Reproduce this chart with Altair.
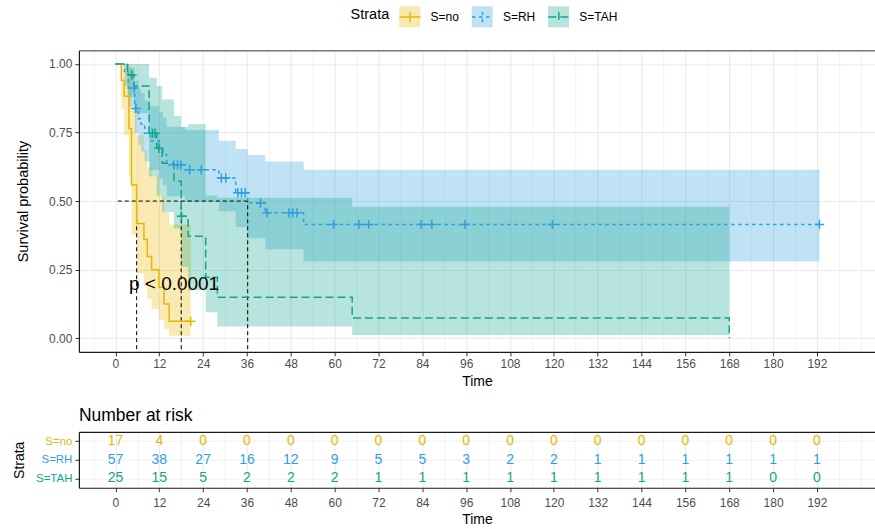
import altair as alt
import pandas as pd

FONT = "Liberation Sans"

strata = ["S=no", "S=RH", "S=TAH"]
series_colors = ["#E7B800", "#2E9FDF", "#12A58A"]
series_dashes = [[1, 0], [3.5, 3.5], [8, 4]]

# Kaplan-Meier step curves: time (months), survival, 95% CI upper / lower
no_time = [0, 1.6, 2.4, 3.7, 4.4, 5.8, 7.8, 8.7, 9.9, 11.9, 13.3, 14.7, 20.6]
no_surv = [1.0, 0.941, 0.882, 0.765, 0.559, 0.418, 0.36, 0.298, 0.25, 0.186, 0.125, 0.062, 0.062]
no_upper = [1.0, 1.0, 1.0, 0.99, 0.834, 0.74, 0.685, 0.623, 0.59, 0.52, 0.46, 0.415, 0.415]
no_lower = [1.0, 0.836, 0.741, 0.588, 0.376, 0.236, 0.19, 0.143, 0.106, 0.066, 0.034, 0.009, 0.009]

rh_time = [0, 2.5, 3.5, 5.3, 6.3, 7.0, 8.0, 9.5, 12.0, 13.0, 14.0, 19.0, 28.3, 32.9, 36.2, 41.0, 51.5, 192.7]
rh_surv = [1.0, 0.965, 0.912, 0.838, 0.80, 0.78, 0.747, 0.72, 0.693, 0.67, 0.632, 0.614, 0.584, 0.53, 0.493, 0.457, 0.415, 0.415]
rh_upper = [1.0, 1.0, 0.985, 0.939, 0.908, 0.893, 0.867, 0.846, 0.825, 0.804, 0.771, 0.759, 0.72, 0.69, 0.668, 0.644, 0.614, 0.614]
rh_lower = [1.0, 0.919, 0.844, 0.748, 0.705, 0.681, 0.644, 0.613, 0.582, 0.558, 0.518, 0.497, 0.463, 0.405, 0.364, 0.324, 0.28, 0.28]

tah_time = [0, 3.3, 5.0, 9.2, 11.3, 12.8, 16.0, 18.0, 19.9, 24.7, 27.9, 64.8, 168.0]
tah_surv = [1.0, 0.96, 0.92, 0.747, 0.693, 0.638, 0.572, 0.445, 0.372, 0.222, 0.149, 0.074, 0.0]
tah_upper = [1.0, 1.0, 1.0, 0.95, 0.92, 0.87, 0.81, 0.77, 0.78, 0.52, 0.512, 0.479, 0.0]
tah_lower = [1.0, 0.88, 0.82, 0.59, 0.52, 0.46, 0.40, 0.26, 0.175, 0.095, 0.043, 0.012, 0.0]

# censoring marks
no_cens_time = [20.6]
no_cens_surv = [0.062]
rh_cens_time = [5.1, 5.6, 16.0, 17.0, 17.9, 20.3, 23.5, 29.0, 30.2, 33.5, 34.5, 35.5, 39.7,
                41.5, 47.5, 48.5, 49.7, 59.7, 66.6, 69.3, 83.7, 86.6, 95.7, 119.6, 192.7]
rh_cens_surv = [0.912, 0.838, 0.632, 0.632, 0.632, 0.614, 0.614, 0.584, 0.584, 0.53, 0.53, 0.53, 0.493,
                0.457, 0.457, 0.457, 0.457, 0.415, 0.415, 0.415, 0.415, 0.415, 0.415, 0.415, 0.415]
tah_cens_time = [4.5, 10.1, 10.8, 11.9, 18.1]
tah_cens_surv = [0.96, 0.747, 0.747, 0.693, 0.445]

# median survival times
median_time = [5.8, 18.0, 36.2]

# p-value annotation
pval_label = ["p < 0.0001"]
pval_time = [3.7]
pval_surv = [0.175]

# number at risk table
risk_time = [0, 12, 24, 36, 48, 60, 72, 84, 96, 108, 120, 132, 144, 156, 168, 180, 192]
risk_no = [17, 4, 0, 0, 0, 0, 0, 0, 0, 0, 0, 0, 0, 0, 0, 0, 0]
risk_rh = [57, 38, 27, 16, 12, 9, 5, 5, 3, 2, 2, 1, 1, 1, 1, 1, 1]
risk_tah = [25, 15, 5, 2, 2, 2, 1, 1, 1, 1, 1, 1, 1, 1, 1, 0, 0]

x_grid = [-6] + [v for t in risk_time for v in (t, t + 6)] + [204]
y_grid = [0, 0.125, 0.25, 0.375, 0.5, 0.625, 0.75, 0.875, 1.0]

# band keys carry a "_" suffix so the band legend stays separate from the line legend
band_keys = [s + "_" for s in strata]

# ---------- data frames ----------
def curve(name, t, s, u, l):
    return pd.DataFrame({"S": name, "Sf": name + "_", "t": t, "s": s, "up": u, "lo": l})

km = pd.concat([
    curve("S=no", no_time, no_surv, no_upper, no_lower),
    curve("S=RH", rh_time, rh_surv, rh_upper, rh_lower),
    curve("S=TAH", tah_time, tah_surv, tah_upper, tah_lower),
], ignore_index=True)

cens = pd.concat([
    pd.DataFrame({"S": "S=no", "t": no_cens_time, "s": no_cens_surv}),
    pd.DataFrame({"S": "S=RH", "t": rh_cens_time, "s": rh_cens_surv}),
    pd.DataFrame({"S": "S=TAH", "t": tah_cens_time, "s": tah_cens_surv}),
], ignore_index=True)

med = pd.DataFrame({"m": median_time})
med_h = pd.DataFrame({"m": [max(median_time)]})
pval = pd.DataFrame({"label": pval_label, "t": pval_time, "s": pval_surv})

risk = pd.concat([
    pd.DataFrame({"S": "S=no", "t": risk_time, "n": risk_no}),
    pd.DataFrame({"S": "S=RH", "t": risk_time, "n": risk_rh}),
    pd.DataFrame({"S": "S=TAH", "t": risk_time, "n": risk_tah}),
], ignore_index=True)

# ---------- scales ----------
X_DOMAIN = [-10, 207.9]
xs = alt.Scale(domain=X_DOMAIN, nice=False, zero=False)
ys = alt.Scale(domain=[-0.05, 1.05], nice=False, zero=False)
color_scale = alt.Scale(domain=strata, range=series_colors)
band_scale = alt.Scale(domain=band_keys, range=series_colors)
dash_scale = alt.Scale(domain=strata, range=series_dashes)

minor_test = "datum.value % 12 !== 0 || datum.value < 0 || datum.value > 192"

def x_axis(title, label_pad, title_pad):
    return alt.Axis(
        values=x_grid, format="d",
        labelExpr="(datum.value % 12 === 0 && datum.value >= 0 && datum.value <= 192) ? datum.label : ''",
        tickOpacity={"condition": {"test": minor_test, "value": 0}, "value": 1},
        gridWidth={"condition": {"test": minor_test, "value": 0.6}, "value": 1.1},
        gridColor="#EBEBEB", grid=True,
        domainColor="#1a1a1a", domainWidth=1.2,
        tickColor="#333333", tickSize=4, tickWidth=1,
        labelColor="#4D4D4D", labelFontSize=12, labelPadding=label_pad, labelFlush=False,
        title=title, titleFontSize=14, titleFontWeight="normal", titleColor="black", titlePadding=title_pad,
    )

top_axis_main = alt.Axis(orient="top", labels=False, ticks=False, grid=False, title=None,
                         domainColor="#777777", domainWidth=1.5)
top_axis_risk = alt.Axis(orient="top", labels=False, ticks=False, grid=False, title=None,
                         domainColor="#1a1a1a", domainWidth=1.2)

y_axis_main = alt.Axis(
    values=y_grid,
    labelExpr="(datum.value * 4) % 1 === 0 ? format(datum.value, '.2f') : ''",
    tickOpacity={"condition": {"test": "(datum.value * 4) % 1 !== 0", "value": 0}, "value": 1},
    gridWidth={"condition": {"test": "(datum.value * 4) % 1 !== 0", "value": 0.6}, "value": 1.1},
    gridColor="#EBEBEB", grid=True,
    domainColor="#1a1a1a", domainWidth=1.2,
    tickColor="#333333", tickSize=4, tickWidth=1,
    labelColor="#4D4D4D", labelFontSize=12, labelPadding=3,
    title="Survival probability", titleFontSize=14.5, titleFontWeight="normal", titleColor="black",
    titlePadding=18,
)

legend_common = dict(
    orient="none", legendY=-45, direction="horizontal",
    labelFontSize=12, labelColor="black", labelOffset=9, columnPadding=9.5,
    symbolSize=441, symbolStrokeWidth=1.5, padding=0,
)
# line legend carries the visible title and labels
line_legend = alt.Legend(**legend_common, legendX=272,
                         title="Strata", titleOrient="left", titleFontSize=14.5, titleFontWeight="normal",
                         titleColor="black", titlePadding=9, titleBaseline="middle",
                         symbolType="M-1,0H1M0,-0.5V0.5", symbolFillColor="transparent")
# band legend: only the pale key boxes, placed right under the line keys
fill_legend = alt.Legend(**legend_common, legendX=272 + 47.7, title=None, labelOpacity=0,
                         labelExpr="replace(datum.label, '_', '')",
                         symbolType="square", symbolOpacity=0.3, symbolStrokeColor="transparent")

# ---------- main KM plot ----------
bands = alt.Chart(km).mark_area(interpolate="step-after", opacity=0.3, strokeWidth=0).encode(
    x=alt.X("t:Q", scale=xs, axis=x_axis("Time", 3, 5)),
    y=alt.Y("lo:Q", scale=ys, axis=y_axis_main, stack=None),
    y2="up:Q",
    fill=alt.Fill("Sf:N", scale=band_scale, legend=fill_legend),
)

med_v = alt.Chart(med).mark_rule(color="black", strokeDash=[4, 3], strokeWidth=1).encode(
    x=alt.X("m:Q", scale=xs, axis=None),
    y=alt.datum(-0.04),
    y2=alt.datum(0.5),
)
med_hline = alt.Chart(med_h).mark_rule(color="black", strokeDash=[4, 3], strokeWidth=1).encode(
    x=alt.X("m:Q", scale=xs, axis=top_axis_main),
    x2=alt.datum(0),
    y=alt.datum(0.5),
)

lines = alt.Chart(km).mark_line(interpolate="step-after", strokeWidth=1.5).encode(
    x=alt.X("t:Q", scale=xs, axis=None),
    y=alt.Y("s:Q", scale=ys),
    stroke=alt.Stroke("S:N", scale=color_scale, legend=line_legend),
    strokeDash=alt.StrokeDash("S:N", scale=dash_scale, legend=line_legend),
)

marks = alt.Chart(cens).mark_point(shape="M-1,0H1M0,-1V1", filled=False, size=90, strokeWidth=1.5, opacity=1).encode(
    x=alt.X("t:Q", scale=xs, axis=None),
    y=alt.Y("s:Q", scale=ys),
    stroke=alt.Stroke("S:N", scale=color_scale, legend=line_legend),
)

ptext = alt.Chart(pval).mark_text(align="left", baseline="alphabetic", fontSize=19, color="black").encode(
    x=alt.X("t:Q", scale=xs, axis=None),
    y=alt.Y("s:Q", scale=ys),
    text="label:N",
)

main = alt.layer(bands, med_v, med_hline, lines, marks, ptext).resolve_axis(x="independent").properties(
    width=797, height=302
)

# ---------- risk table ----------
risk_y_axis = alt.Axis(
    labelColor={"condition": [
        {"test": "datum.value === 'S=no'", "value": series_colors[0]},
        {"test": "datum.value === 'S=RH'", "value": series_colors[1]},
    ], "value": series_colors[2]},
    labelFontSize=11.5, labelPadding=3, tickSize=4, tickColor="#333333",
    domainColor="#1a1a1a", domainWidth=1.2,
    grid=True, gridColor="#F0F0F0", gridWidth=1,
    title="Strata", titleFontSize=14, titleFontWeight="normal", titleColor="black", titlePadding=9,
)

risk_text = alt.Chart(risk).mark_text(fontSize=14).encode(
    x=alt.X("t:Q", scale=xs, axis=x_axis("Time", 6, 4)),
    y=alt.Y("S:N", scale=alt.Scale(domain=strata, type="point", padding=0.5), axis=risk_y_axis),
    text="n:Q",
    color=alt.Color("S:N", scale=color_scale, legend=None),
)
risk_top = alt.Chart(risk).mark_point(opacity=0).encode(
    x=alt.X("t:Q", scale=xs, axis=top_axis_risk),
)

risk_chart = alt.layer(risk_text, risk_top).resolve_axis(x="independent").properties(
    width=797, height=56,
    title=alt.TitleParams("Number at risk", anchor="start", frame="group", fontSize=17.5,
                          fontWeight="normal", color="black", offset=7),
)

chart = alt.vconcat(main, risk_chart, spacing=18).resolve_scale(
    color="independent", fill="independent", stroke="independent", strokeDash="independent"
).properties(
    padding={"left": 12, "top": 5, "right": 0, "bottom": 0}
).configure(font=FONT).configure_view(stroke=None)

chart.save("out.html", embed_options={"renderer": "svg", "actions": False})
